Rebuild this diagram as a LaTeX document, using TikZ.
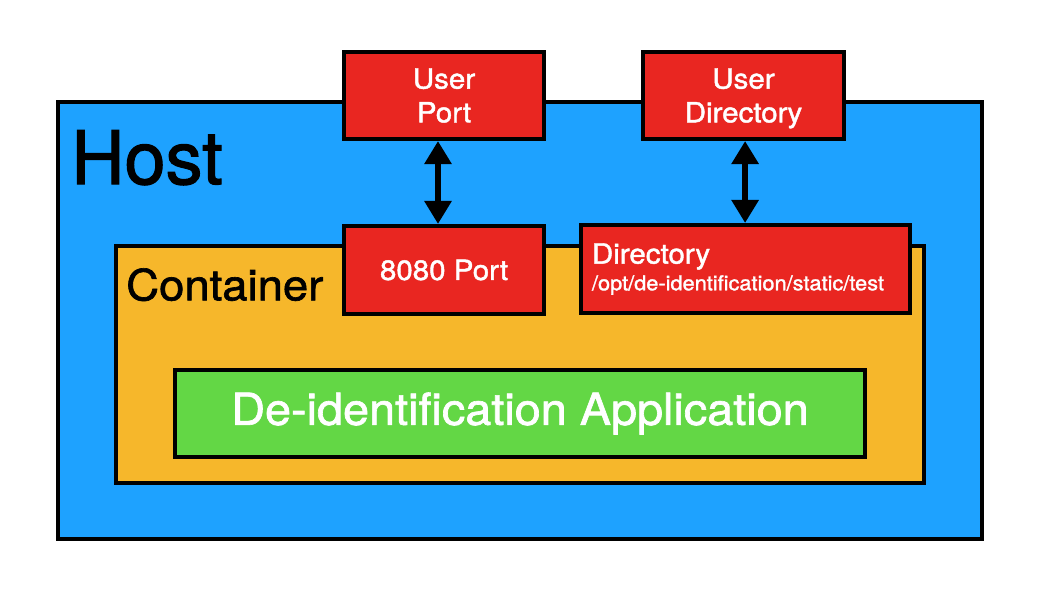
\documentclass[tikz,border=0pt]{standalone}
\usepackage{fontspec}
\setmainfont{TeX Gyre Heros}[FakeStretch=1.06, FakeBold=1.5]
\newfontfamily\hostfont{TeX Gyre Heros}[FakeBold=1.5]
\usepackage{xcolor}
\usetikzlibrary{arrows.meta,positioning}

\definecolor{hostblue}{RGB}{30,162,255}
\definecolor{boxorange}{RGB}{246,183,43}
\definecolor{appgreen}{RGB}{99,215,69}
\definecolor{portred}{RGB}{233,38,33}

\begin{document}
\begin{tikzpicture}[
    x=0.025cm, y=-0.025cm,
    every node/.style={inner sep=0pt},
    frame/.style={draw=black, line width=0.1cm, rectangle},
    redbox/.style={frame, fill=portred, text=white, align=center, minimum width=5cm, minimum height=2.175cm, font=\fontsize{19.8}{24}\selectfont},
    link/.style={{Triangle[width=0.65cm,length=0.575cm]}-{Triangle[width=0.65cm,length=0.575cm]}, line width=0.15cm, black}
]

% Canvas
\useasboundingbox (0,0) rectangle (1044,588);

% Host and container frames
\node[frame, fill=hostblue, minimum width=23.1cm, minimum height=10.925cm] (host) at (520,320.5) {};
\node[anchor=north west, font=\hostfont\fontsize{52.5}{60}\selectfont] (hostlabel) at (71,130) {Host};

\node[frame, fill=boxorange, minimum width=20.2cm, minimum height=5.925cm] (container) at (520,364.5) {};
\node[anchor=north west, font=\fontsize{30.5}{34}\selectfont] (containerlabel) at (126,268) {Container};

% Application
\node[frame, fill=appgreen, text=white, minimum width=17.25cm, minimum height=2.175cm, font=\fontsize{31.4}{36}\selectfont] (app) at (520,413.5) {De-identification Application};

% Ports and directories
\node[redbox] (userport) at (444,95.5) {User\\Port};
\node[redbox] (userdir) at (743.5,95.5) {User\\Director\smash{y}};
\node[redbox, minimum height=2.2cm] (port) at (444,270) {8080 Port};
\node[redbox, minimum height=2.2cm, minimum width=8.225cm, text width=7.675cm, align=left, inner xsep=0.275cm] (dir) at (745.5,269) {Directory\\[-5pt]{\fontsize{14.6}{17}\selectfont /opt/de-identification/static/test}};

% Mappings
\draw[link] ([xshift=-0.15cm]userport.south) -- ([xshift=-0.15cm]port.north);
\draw[link] ([xshift=0.04cm]userdir.south) -- ([xshift=-0.01cm]dir.north);

\end{tikzpicture}
\end{document}
